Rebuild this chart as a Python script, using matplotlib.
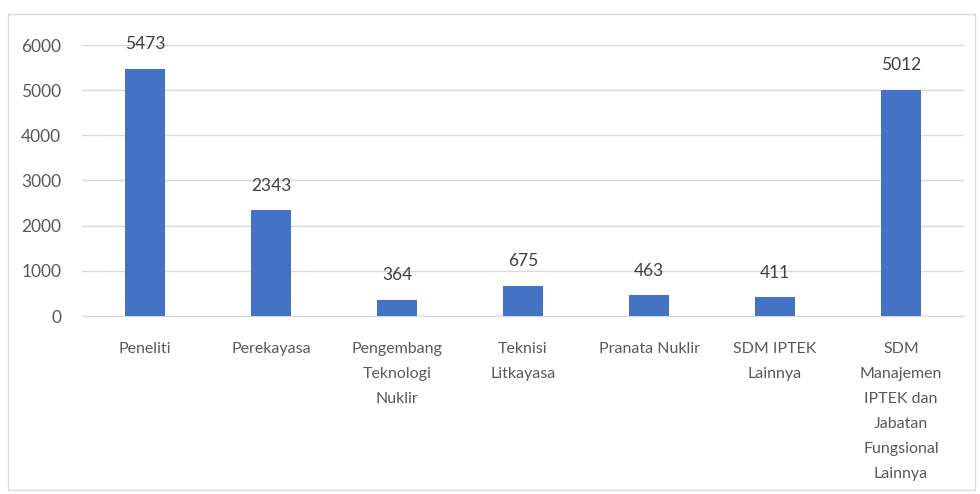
import matplotlib
matplotlib.use("Agg")
import matplotlib.pyplot as plt
from matplotlib.patches import Rectangle

categories = ["Peneliti", "Perekayasa", "Pengembang\nTeknologi\nNuklir", "Teknisi\nLitkayasa",
              "Pranata Nuklir", "SDM IPTEK\nLainnya",
              "SDM\nManajemen\nIPTEK dan\nJabatan\nFungsional\nLainnya"]
values = [5473, 2343, 364, 675, 463, 411, 5012]
yticks = [0, 1000, 2000, 3000, 4000, 5000, 6000]

plt.rcParams['font.family'] = ['Lato', 'DejaVu Sans']
txt = '#595959'

fig = plt.figure(figsize=(9.8, 4.94), dpi=100)
fig.patches.append(Rectangle((8/980, 1-490/494), 967/980, 476/494, transform=fig.transFigure,
                             fill=False, edgecolor='#d9d9d9', linewidth=1))
ax = fig.add_axes([82/980, 1-316/494, 882/980, 271/494])
x = list(range(len(categories)))
bars = ax.bar(x, values, width=0.32, color='#4472C4', zorder=3)
for xi, v in zip(x, values):
    ax.text(xi, v + 540, str(v), ha='center', va='center', fontsize=12.5, color='#404040')
ax.set_xlim(-0.5, len(categories) - 0.5)
ax.set_ylim(0, 6000)
ax.set_yticks(yticks)
ax.set_yticklabels([str(t) for t in yticks], fontsize=12.5)
ax.yaxis.grid(True, color='#d9d9d9', linewidth=1, zorder=0)
ax.set_xticks(x)
ax.set_xticklabels(categories, linespacing=2.0, fontsize=11.5)
ax.tick_params(axis='both', length=0, colors=txt)
ax.tick_params(axis='y', pad=15)
ax.tick_params(axis='x', pad=19)
for s in ['top', 'right', 'left']:
    ax.spines[s].set_visible(False)
ax.spines['bottom'].set_color('#d9d9d9')
fig.savefig('out.png', dpi=100)
